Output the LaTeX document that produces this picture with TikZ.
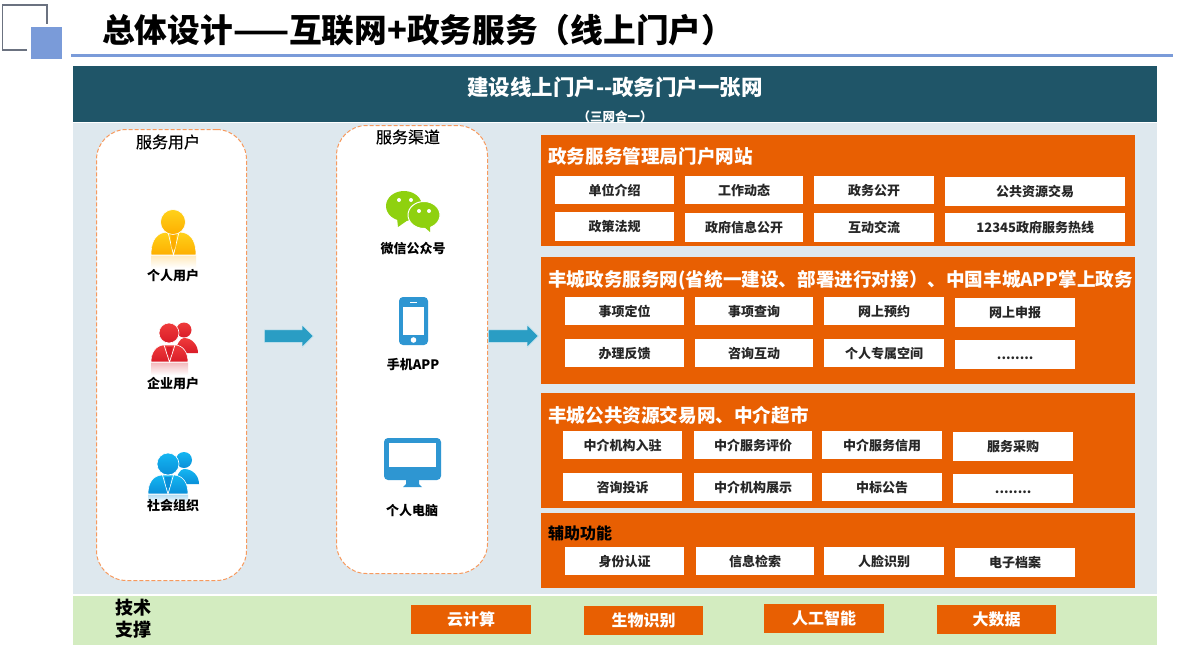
\documentclass[tikz,border=0pt]{standalone}
\usepackage{fontspec}
\setmainfont{Noto Sans CJK SC}
\newfontfamily\mediumf[FakeBold=0.5]{Noto Sans CJK SC}
\usetikzlibrary{shapes.arrows}
\definecolor{hdr}{HTML}{1F5568}
\definecolor{pale}{HTML}{DEE8EE}
\definecolor{grn}{HTML}{D3ECC0}
\definecolor{org}{HTML}{E85F02}
\definecolor{lblue}{HTML}{7A9BD9}
\definecolor{logog}{HTML}{6B7280}
\definecolor{dash}{HTML}{F79A5E}
\definecolor{arrowb}{HTML}{2A9DC4}
\definecolor{icb}{HTML}{2E96D2}
\definecolor{wx}{HTML}{8FD10F}
\definecolor{yA}{HTML}{FFD21A}
\definecolor{yB}{HTML}{FDAE00}
\definecolor{rA}{HTML}{EF3B3B}
\definecolor{rB}{HTML}{D91C28}
\definecolor{bA}{HTML}{14B6F2}
\definecolor{bB}{HTML}{0A8FD8}
\tikzset{
 x=1pt,y=-1pt,
 band/.style={anchor=north west,inner sep=0pt,outer sep=0pt},
 wbox/.style={fill=white,inner sep=0pt,font=\bfseries\fontsize{13}{13}\selectfont,text=black!85},
 obox/.style={fill=org,inner sep=0pt,text=white,font=\bfseries\fontsize{16}{16}\selectfont},
 ptitle/.style={anchor=west,inner sep=0pt,text=white,font=\bfseries\fontsize{18.6}{18.6}\selectfont},
 lane/.style={draw=dash,fill=white,line width=1pt,rounded corners=30pt,dash pattern=on 4pt off 2pt,inner sep=0pt},
 lanetitle/.style={inner sep=0pt,font=\mediumf\fontsize{16}{16}\selectfont},
 ictext/.style={inner sep=0pt,font=\bfseries\fontsize{13}{13}\selectfont},
 flow/.style={single arrow,anchor=tail,fill=arrowb,draw=arrowb!25!white,line width=.5pt,inner xsep=0pt,inner ysep=6pt,minimum height=50pt,single arrow head extend=5pt,single arrow tip angle=90},
}
% box by corners: name, x1, y1, x2, y2, text, style
\newcommand{\bx}[7]{\node[#7,minimum width=#4pt-#2pt,minimum height=#5pt-#3pt,anchor=north west] (#1) at (#2,#3) {#6};}
\newcommand{\lowdots}{\smash{\raisebox{-5pt}{........}}}
% person: top colour, bottom colour, head x,y,radius, body left,right,top,bottom
\newcommand{\person}[9]{%
 \shade[top color=#1,bottom color=#2,draw=white,line width=.6pt]
   (#6,#9) .. controls (#6,#8+7) and ({#6+(#7-#6)*0.14},#8+0.5) .. ({(#6+#7)/2-6},#8)
   -- ({(#6+#7)/2+6},#8) .. controls ({#7-(#7-#6)*0.14},#8+0.5) and (#7,#8+7) .. (#7,#9) -- cycle;
 \draw[white,line width=.7pt] ({(#6+#7)/2-5.5},#8) -- ({(#6+#7)/2},#9) -- ({(#6+#7)/2+5.5},#8);
 \fill[#2] ({(#6+#7)/2-3},#8+2) -- ({(#6+#7)/2+3},#8+2) -- ({(#6+#7)/2+2},#9-8) -- ({(#6+#7)/2},#9-5) -- ({(#6+#7)/2-2},#9-8) -- cycle;
 \shade[top color=#1,bottom color=#2,draw=white,line width=.6pt] (#3,#4) circle (#5pt);
}
\begin{document}
\begin{tikzpicture}
\useasboundingbox (0,0) rectangle (1181,648);
\fill[white] (0,0) rectangle (1181,648);
% logo
\draw[logog,line width=1.6pt] (27,50) -- (2.5,50) -- (2.5,5) -- (47,5) -- (47,24);
\fill[lblue] (31,27) rectangle (62,59);
\node[anchor=west,inner sep=0pt,font=\bfseries\fontsize{32.7}{32.7}\selectfont] (title) at (102,30) {总体设计——互联网+政务服务（线上门户）};
\fill[lblue] (71,54) rectangle (1173,57);
% bands
\node[band,fill=hdr,minimum width=1084pt,minimum height=56pt] (hd) at (73,66) {};
\node[inner sep=0pt,text=white,font=\bfseries\fontsize{12.5}{12.5}\selectfont] (h2) at (615,117) {（三网合一）};
\fill[white] (73,122) rectangle (1157,123);
\node[band,fill=pale,minimum width=1084pt,minimum height=471pt] (bd) at (73,123) {};
\node[band,fill=grn,minimum width=1084pt,minimum height=49pt] (tech) at (73,596) {};
\node[inner sep=0pt,text=white,font=\bfseries\fontsize{21.5}{21.5}\selectfont] (h1) at (615,87) {建设线上门户-{}-政务门户一张网};
% lanes
\bx{l1}{96}{129}{246}{580}{}{lane}
\bx{l2}{336}{125}{487}{573}{}{lane}
\node[lanetitle] (lt1) at (168,142) {服务用户};
\node[lanetitle] (lt2) at (408,137) {服务渠道};
% persons
\shade[top color=yB!25!white,bottom color=white] (151,256) rectangle (196,268);
\person{yA}{yB}{173}{222}{12.5}{151}{196}{232}{255}
\shade[top color=rB!30!white,bottom color=white] (151,363) rectangle (188,375);
\shade[top color=rA,bottom color=rB] (184,330) circle (7.5pt);
\shade[top color=rA,bottom color=rB] (176,353) .. controls (176,345) and (180,338) .. (184,338) .. controls (192,338) and (198,345) .. (198,353) -- cycle;
\person{rA}{rB}{169}{333}{10}{151}{188}{345}{362}
\shade[top color=bB!30!white,bottom color=white] (148,495) rectangle (188,503);
\shade[top color=bA,bottom color=bB] (184,460) circle (8pt);
\shade[top color=bA,bottom color=bB] (176,484) .. controls (176,476) and (180,469) .. (184,469) .. controls (193,469) and (199,476) .. (199,484) -- cycle;
\person{bA}{bB}{168}{464}{11}{148}{188}{475}{494}
\node[ictext] (u1) at (173,275.5) {个人用户};
\node[ictext] (u2) at (173,383.5) {企业用户};
\node[ictext] (u3) at (173,505.5) {社会组织};
% wechat
\fill[wx] (404,206) ellipse (18pt and 15pt);
\fill[wx] (397,218) -- (398,227) -- (408,220) -- cycle;
\draw[white,line width=1pt,fill=wx] (424,215) ellipse (16pt and 13.5pt);
\fill[wx] (423,226) -- (430,232) -- (430,225) -- cycle;
\foreach \p/\q in {399/200,411/200,419/211,429/211} \fill[white] (\p,\q) circle (2pt);
\node[ictext] (c1) at (413,248.5) {微信公众号};
% phone
\fill[icb,rounded corners=4pt] (399,297) rectangle (428,345);
\fill[white] (403,307) rectangle (424,335);
\fill[white] (410,302) rectangle (417,303);
\fill[white] (413.5,340) circle (2.8pt);
\node[ictext] (c2) at (413,364.5) {手机APP};
% monitor
\fill[icb,rounded corners=4pt] (384,438) rectangle (441,480);
\fill[white] (389,443) rectangle (436,467);
\fill[icb] (406,478) -- (419,478) -- (419,484) -- (422,487) -- (403,487) -- (406,484) -- cycle;
\node[ictext] (c3) at (412,510.5) {个人电脑};
% arrows
\node[flow,minimum height=49pt] (a1) at (264,336) {};
\node[flow] (a2) at (488,336) {};
% panels
\bx{p1}{541}{135}{1135}{246}{}{fill=org,inner sep=0pt}
\bx{p2}{541}{257}{1135}{384}{}{fill=org,inner sep=0pt}
\bx{p3}{541}{393}{1135}{508}{}{fill=org,inner sep=0pt}
\bx{p4}{541}{513}{1135}{588}{}{fill=org,inner sep=0pt}
\node[ptitle] (t1) at (548,156) {政务服务管理局门户网站};
\node[ptitle] (t2) at (548,280) {丰城政务服务网(省统一建设、部署进行对接）、中国丰城APP掌上政务};
\node[ptitle] (t3) at (548,415) {丰城公共资源交易网、中介超市};
\node[anchor=west,inner sep=0pt,font=\bfseries\fontsize{16}{16}\selectfont] (t4) at (548,533) {辅助功能};
% panel 1
\bx{a11}{555}{176}{674}{204}{单位介绍}{wbox}
\bx{a12}{685}{176}{803}{204}{工作动态}{wbox}
\bx{a13}{814}{176}{934}{204}{政务公开}{wbox}
\bx{a14}{945}{177}{1125}{206}{公共资源交易}{wbox}
\bx{a21}{555}{212}{674}{241}{政策法规}{wbox}
\bx{a22}{685}{213}{803}{242}{政府信息公开}{wbox}
\bx{a23}{814}{213}{934}{242}{互动交流}{wbox}
\bx{a24}{945}{213}{1125}{242}{12345政府服务热线}{wbox}
% panel 2
\bx{b11}{565}{297}{684}{325}{事项定位}{wbox}
\bx{b12}{695}{297}{813}{325}{事项查询}{wbox}
\bx{b13}{824}{297}{944}{325}{网上预约}{wbox}
\bx{b14}{955}{298}{1075}{327}{网上申报}{wbox}
\bx{b21}{565}{339}{684}{367}{办理反馈}{wbox}
\bx{b22}{695}{339}{813}{367}{咨询互动}{wbox}
\bx{b23}{824}{339}{944}{367}{个人专属空间}{wbox}
\bx{b24}{955}{340}{1075}{369}{\lowdots}{wbox}
% panel 3
\bx{d11}{563}{431}{682}{459}{中介机构入驻}{wbox}
\bx{d12}{694}{431}{812}{459}{中介服务评价}{wbox}
\bx{d13}{822}{431}{942}{459}{中介服务信用}{wbox}
\bx{d14}{953}{432}{1073}{461}{服务采购}{wbox}
\bx{d21}{563}{473}{682}{501}{咨询投诉}{wbox}
\bx{d22}{694}{473}{812}{501}{中介机构展示}{wbox}
\bx{d23}{822}{473}{942}{501}{中标公告}{wbox}
\bx{d24}{953}{474}{1073}{503}{\lowdots}{wbox}
% panel 4
\bx{e1}{565}{547}{684}{575}{身份认证}{wbox}
\bx{e2}{696}{547}{814}{575}{信息检索}{wbox}
\bx{e3}{824}{547}{944}{575}{人脸识别}{wbox}
\bx{e4}{955}{548}{1075}{577}{电子档案}{wbox}
% tech
\node[inner sep=0pt,align=center,font=\bfseries\fontsize{18}{22}\selectfont] (tl) at (133,619) {技术\\支撑};
\bx{f1}{411}{605}{531}{634}{云计算}{obox}
\bx{f2}{584}{606}{703}{635}{生物识别}{obox}
\bx{f3}{764}{604}{884}{633}{人工智能}{obox}
\bx{f4}{937}{605}{1056}{634}{大数据}{obox}
\end{tikzpicture}
\end{document}
